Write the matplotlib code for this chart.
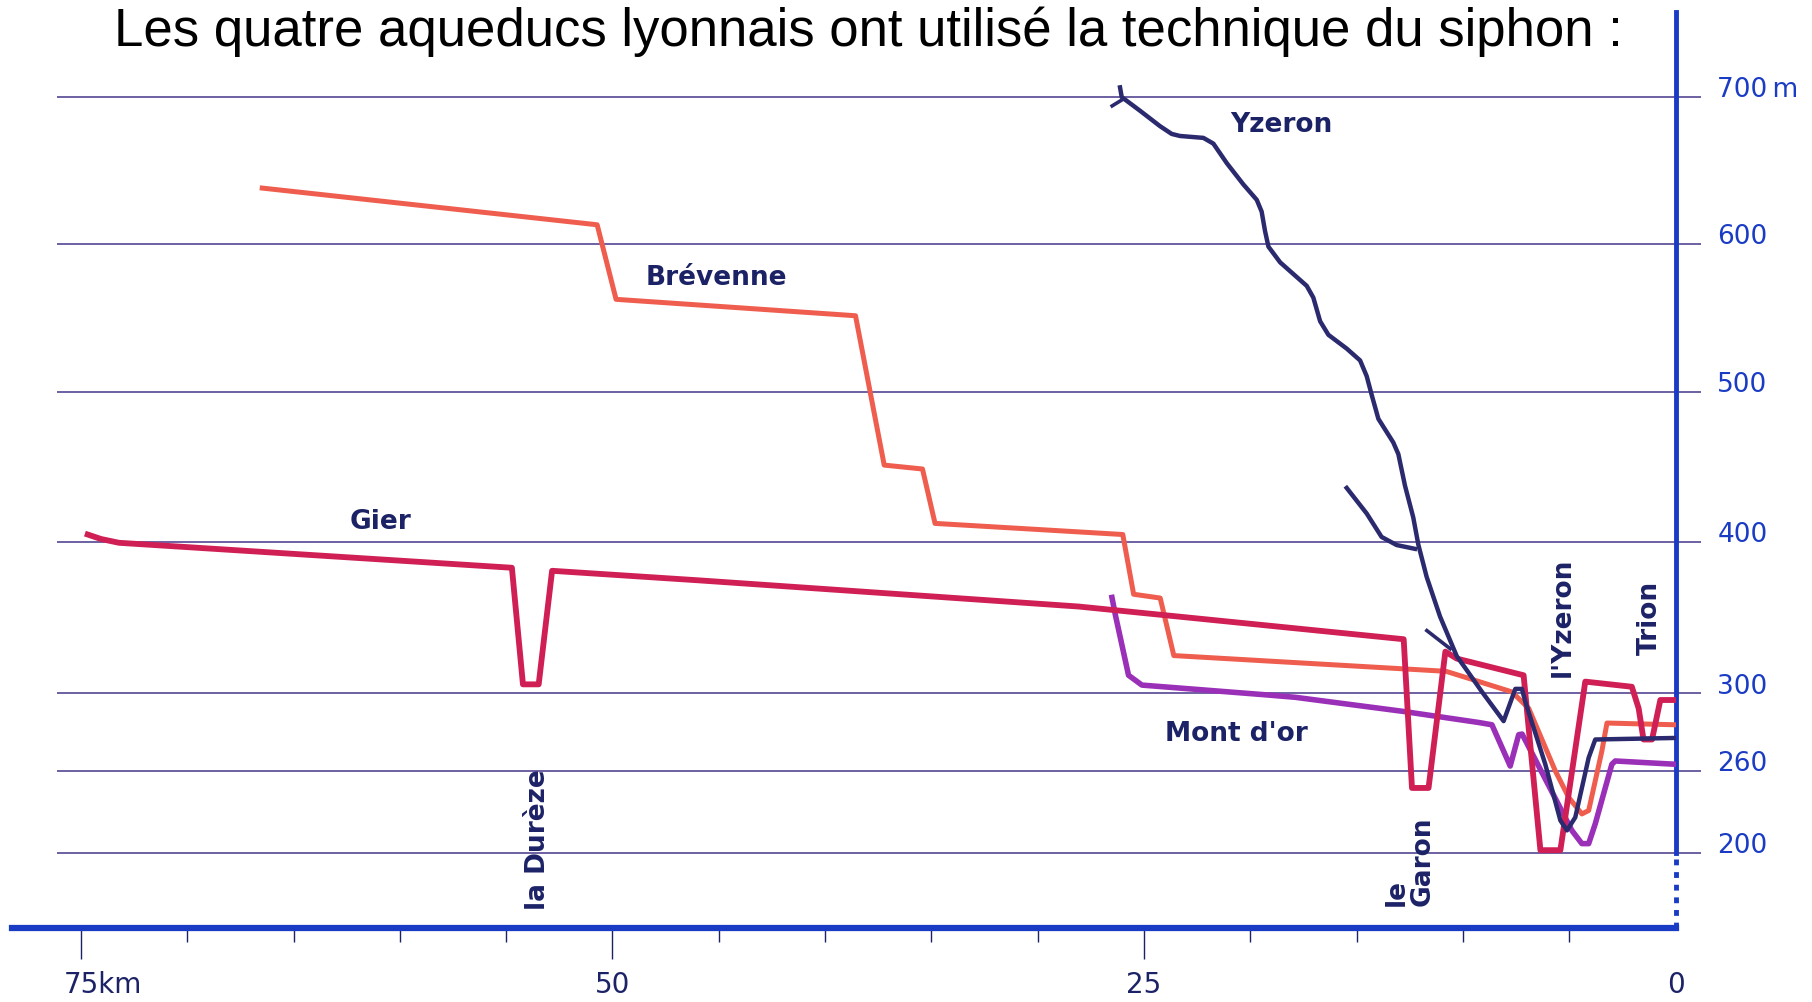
import numpy as np
import matplotlib
matplotlib.use("Agg")
import matplotlib.pyplot as plt
from matplotlib.ticker import MultipleLocator
from matplotlib.transforms import ScaledTranslation

# profiles of the four aqueducts: distance to Lyon (km) / altitude (m)
gier_km = [74.68, 74.05, 73.21, 54.73, 54.21, 53.47, 52.84, 45.95, 28.08, 12.79,
           12.40, 11.62, 10.83, 10.29, 7.15, 6.36, 5.42, 4.25, 2.06, 1.74,
           1.51, 1.11, 0.72, 0.0]
gier_alt = [405, 402, 399.5, 383, 306, 306, 381, 374.7, 357.4, 335.8,
            247.5, 247.5, 327.6, 323, 312, 202, 202, 307.8, 304.4, 292.3,
            276.2, 276.2, 296.6, 296.6]

brevenne_km = [66.47, 50.72, 49.83, 38.57, 37.22, 35.42, 34.83, 26.0, 25.49, 24.24,
               23.6, 10.8, 9.74, 7.70, 6.91, 5.66, 5.03, 4.41, 4.09, 3.47, 3.23, 0.0]
brevenne_alt = [638, 613, 562.5, 551.4, 451.2, 448.6, 412.4, 405, 365.5, 363,
                325, 314.6, 310, 301, 292.3, 260, 240.6, 228.5, 231, 270.2, 284.7, 283.8]

yzeron_km = [26.13, 26.05, 25.19, 24.25, 23.70, 23.31, 22.21, 21.74, 21.11, 20.33,
             19.70, 19.47, 19.31, 19.15, 18.60, 17.35, 17.04, 16.72, 16.33, 15.47,
             14.84, 14.53, 14.29, 13.98, 13.28, 13.04, 12.73, 12.34, 12.10, 11.71,
             11.08, 10.29, 9.89, 9.11, 8.09, 7.54, 7.23, 7.07, 6.13, 5.42,
             5.11, 4.72, 4.09, 3.78, 0.0]
yzeron_alt = [706.6, 700, 690.7, 680.2, 674.9, 673.5, 672.2, 668.3, 655, 640.5,
              630, 622, 608.7, 598.1, 587.5, 571.6, 563.7, 547.7, 538.5, 529.2,
              521.2, 510.6, 497.7, 482, 466.3, 458.5, 437.6, 416.4, 398.2, 377,
              350.8, 324.5, 316.7, 301.1, 285.7, 303, 303, 295.7, 263.4, 223.7,
              216.5, 226, 266.8, 276.2, 277]
yzeron_branch_km = [15.47, 14.53, 13.83, 13.12, 12.26]
yzeron_branch_alt = [436, 419, 403.4, 398, 395.5]
yzeron_spur_km = [26.5, 26.05]
yzeron_spur_alt = [694, 698]
yzeron_stub_km = [11.7, 10.6]
yzeron_stub_alt = [341.5, 329.5]

montdor_km = [26.51, 26.35, 25.73, 25.10, 19.30, 17.89, 12.87, 9.27, 8.64, 7.78,
              7.38, 7.22, 4.88, 4.41, 4.09, 3.78, 3.00, 2.84, 0.0]
montdor_alt = [363.4, 351.9, 312, 305.5, 299.3, 298, 290.8, 285, 283.8, 262.5,
               278.7, 279, 216.4, 206.8, 206.8, 221.3, 263.4, 265.1, 263.4]

alt_ticks = [200, 260, 300, 400, 500, 600, 700]
alt_labels = ["200", "260", "300", "400", "500", "600", "700\u2009m"]
km_ticks = [75, 50, 25, 0]
km_labels = ["75km", "50", "25", "0"]

title = "Les quatre aqueducs lyonnais ont utilisé la technique du siphon :"

# the printed altitude scale is not linear (260 m is stretched)
ALT_KNOTS = np.array([0, 200, 260, 300, 400, 500, 600, 700, 1000])
ROW_KNOTS = np.array([-236, 0, 71, 138, 269, 399, 527, 654, 1035])


def fwd(a):
    return np.interp(a, ALT_KNOTS, ROW_KNOTS)


def inv(r):
    return np.interp(r, ROW_KNOTS, ALT_KNOTS)


BLUE = "#1a3cc4"
NAVY = "#1c2266"
GRID = "#46368a"

fig = plt.figure(figsize=(18.12, 10.02), dpi=100)
fig.patch.set_facecolor("white")
ax = fig.add_axes([10 / 1568, 1 - 803 / 867, 1440 / 1568, 793 / 867])
ax.set_facecolor("none")
ax.set_yscale("function", functions=(fwd, inv))
ax.set_xlim(78.26, 0)
ybot, ytop = float(inv(-65)), float(inv(728))
ax.set_ylim(ybot, ytop)

ax.hlines(alt_ticks, 76.1, 0, color=GRID, lw=1.1, zorder=1)

ax.plot(brevenne_km, brevenne_alt, color="#ef5d4e", lw=3.6, zorder=3)
ax.plot(montdor_km, montdor_alt, color="#9b30b8", lw=4.0, zorder=4)
ax.plot(gier_km, gier_alt, color="#cf1f55", lw=4.2, zorder=5)
ax.plot(yzeron_km, yzeron_alt, color="#2b2a6e", lw=3.2, zorder=6)
ax.plot(yzeron_branch_km, yzeron_branch_alt, color="#2b2a6e", lw=3.2, zorder=6)
ax.plot(yzeron_spur_km, yzeron_spur_alt, color="#2b2a6e", lw=2.6, zorder=6)
ax.plot(yzeron_stub_km, yzeron_stub_alt, color="#2b2a6e", lw=2.6, zorder=6)

# spines
for s in ["left", "top"]:
    ax.spines[s].set_visible(False)
ax.spines["right"].set_color(BLUE)
ax.spines["right"].set_linewidth(3.5)
ax.spines["right"].set_bounds(200, ytop)
ax.spines["bottom"].set_color(BLUE)
ax.spines["bottom"].set_linewidth(4.5)
ax.vlines(0, ybot, 200, colors=BLUE, lw=3.5, linestyles=(0, (1.2, 1.4)), clip_on=False, zorder=7)

# altitude axis on the right
ax.yaxis.tick_right()
ax.set_yticks(alt_ticks)
ax.set_yticklabels(alt_labels)
ax.yaxis.set_minor_locator(plt.NullLocator())
ax.tick_params(axis="y", direction="out", length=18, width=1.1, color=GRID, pad=12,
               labelsize=19, labelcolor=BLUE)
for lab in ax.get_yticklabels():
    lab.set_transform(lab.get_transform() + ScaledTranslation(0, 7 / 72, fig.dpi_scale_trans))

# distance axis
ax.set_xticks(km_ticks)
ax.set_xticklabels(km_labels)
ax.xaxis.set_minor_locator(MultipleLocator(5))
ax.tick_params(axis="x", which="major", direction="out", length=22, width=1.0, color=NAVY,
               pad=9, labelsize=20, labelcolor=NAVY)
ax.tick_params(axis="x", which="minor", direction="out", length=10, width=1.0, color=NAVY)
ax.xaxis.get_major_ticks()[-1].tick1line.set_visible(False)
lab75 = ax.get_xticklabels()[0]
lab75.set_transform(lab75.get_transform() + ScaledTranslation(16 / 72, 0, fig.dpi_scale_trans))

# names
tkw = dict(color=NAVY, fontsize=19, fontweight="bold", family="DejaVu Sans", zorder=8)
ax.text(18.53, 681, "Yzeron", ha="center", va="center", **tkw)
ax.text(45.11, 577, "Brévenne", ha="center", va="center", **tkw)
ax.text(60.92, 413, "Gier", ha="center", va="center", **tkw)
ax.text(20.65, 279, "Mont d'or", ha="center", va="center", **tkw)
ax.text(53.48, 209.7, "la Durèze", ha="center", va="center", rotation=90, **tkw)
ax.text(12.5, 194, "le\nGaron", ha="center", va="center", rotation=90,
        multialignment="left", linespacing=1.0, **tkw)
ax.text(5.33, 350.4, "l'Yzeron", ha="center", va="center", rotation=90, **tkw)
ax.text(1.2, 349.6, "Trion", ha="center", va="center", rotation=90, **tkw)

fig.text(0.479, 0.954, title, ha="center", va="baseline", fontsize=38,
         family="Liberation Sans", color="black")

fig.savefig("out.png", dpi=100)
